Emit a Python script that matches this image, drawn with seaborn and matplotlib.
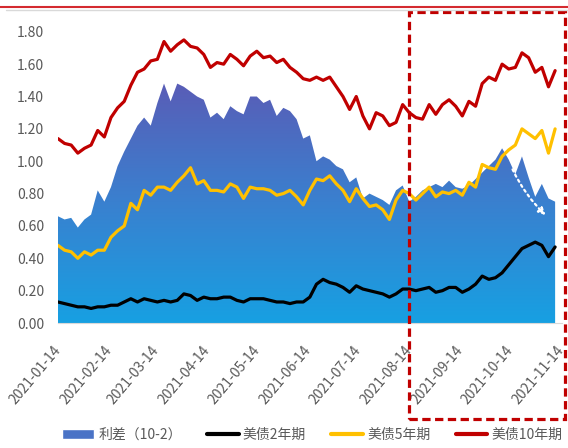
import matplotlib
matplotlib.use('Agg')
import matplotlib.pyplot as plt
import matplotlib.dates as mdates
from matplotlib.colors import LinearSegmentedColormap
from matplotlib.lines import Line2D
from matplotlib.patches import Patch, Rectangle
import numpy as np
import pandas as pd
import seaborn as sns

# 每4天取一个点
dates = pd.date_range('2021-01-14', periods=76, freq='4D')

spread = [0.66, 0.64, 0.65, 0.59, 0.64, 0.67, 0.82, 0.75, 0.84, 0.97,
          1.06, 1.14, 1.22, 1.27, 1.22, 1.36, 1.48, 1.37, 1.48, 1.46,
          1.43, 1.40, 1.38, 1.27, 1.30, 1.26, 1.34, 1.31, 1.29, 1.40,
          1.40, 1.36, 1.38, 1.28, 1.33, 1.31, 1.26, 1.14, 1.16, 1.00,
          1.03, 1.01, 0.97, 0.95, 0.87, 0.90, 0.77, 0.80, 0.78, 0.76,
          0.73, 0.82, 0.85, 0.75, 0.78, 0.82, 0.84, 0.86, 0.84, 0.88,
          0.84, 0.83, 0.85, 0.89, 0.93, 0.97, 1.01, 1.08, 1.01, 0.92,
          1.03, 0.90, 0.78, 0.86, 0.77, 0.75]

y10 = [1.14, 1.11, 1.10, 1.05, 1.08, 1.10, 1.19, 1.15, 1.27, 1.33,
       1.37, 1.47, 1.55, 1.57, 1.62, 1.63, 1.74, 1.68, 1.72, 1.75,
       1.71, 1.70, 1.66, 1.58, 1.61, 1.60, 1.66, 1.63, 1.59, 1.65,
       1.68, 1.64, 1.65, 1.61, 1.63, 1.58, 1.55, 1.51, 1.50, 1.52,
       1.50, 1.52, 1.46, 1.40, 1.32, 1.40, 1.28, 1.20, 1.30, 1.28,
       1.22, 1.24, 1.35, 1.30, 1.27, 1.26, 1.35, 1.29, 1.35, 1.38,
       1.34, 1.28, 1.37, 1.34, 1.48, 1.52, 1.50, 1.60, 1.57, 1.58,
       1.67, 1.64, 1.55, 1.58, 1.46, 1.56]

y5 = [0.48, 0.45, 0.44, 0.40, 0.44, 0.42, 0.45, 0.45, 0.53, 0.57,
      0.60, 0.74, 0.70, 0.82, 0.79, 0.84, 0.84, 0.82, 0.87, 0.91,
      0.96, 0.86, 0.88, 0.82, 0.82, 0.81, 0.86, 0.84, 0.77, 0.84,
      0.83, 0.83, 0.82, 0.79, 0.80, 0.82, 0.78, 0.73, 0.82, 0.89,
      0.88, 0.91, 0.86, 0.82, 0.75, 0.83, 0.77, 0.72, 0.73, 0.70,
      0.64, 0.76, 0.82, 0.80, 0.76, 0.80, 0.84, 0.78, 0.81, 0.80,
      0.82, 0.79, 0.87, 0.84, 0.98, 0.96, 0.95, 1.03, 1.07, 1.10,
      1.20, 1.17, 1.14, 1.19, 1.05, 1.20]

y2 = [0.13, 0.12, 0.11, 0.10, 0.10, 0.09, 0.10, 0.10, 0.11, 0.11,
      0.13, 0.15, 0.13, 0.15, 0.14, 0.13, 0.14, 0.13, 0.14, 0.18,
      0.17, 0.14, 0.16, 0.15, 0.15, 0.16, 0.16, 0.14, 0.13, 0.15,
      0.15, 0.15, 0.14, 0.13, 0.13, 0.12, 0.13, 0.13, 0.16, 0.24,
      0.27, 0.25, 0.24, 0.22, 0.19, 0.23, 0.21, 0.20, 0.19, 0.18,
      0.16, 0.18, 0.21, 0.21, 0.20, 0.21, 0.22, 0.19, 0.20, 0.22,
      0.22, 0.19, 0.21, 0.24, 0.29, 0.27, 0.28, 0.31, 0.36, 0.41,
      0.46, 0.48, 0.50, 0.48, 0.41, 0.47]

names = ['美债2年期', '美债5年期', '美债10年期']
colors = {'美债2年期': '#000000', '美债5年期': '#ffc000', '美债10年期': '#c00000'}

df = pd.DataFrame({'date': dates, '美债2年期': y2, '美债5年期': y5, '美债10年期': y10})
long = df.melt('date', var_name='series', value_name='yield')

sns.set_style('white')
plt.rcParams['font.family'] = ['Noto Sans CJK SC', 'DejaVu Sans']

fig = plt.figure(figsize=(5.68, 4.48), dpi=100)
ax = fig.add_axes([0.102, 0.279, 0.887, 0.65])

sns.lineplot(data=long, x='date', y='yield', hue='series', hue_order=names,
             palette=colors, linewidth=2.3, legend=False, ax=ax, zorder=3)

# 利差渐变面积
poly = ax.fill_between(dates, 0, spread, color='none', lw=0)
x = mdates.date2num(dates)
grad = np.linspace(0, 1, 256).reshape(-1, 1)
cmap = LinearSegmentedColormap.from_list('sp', ['#17a0e2', '#3a80cf', '#5a5cb6'])
img = ax.imshow(grad, cmap=cmap, origin='lower', aspect='auto',
                extent=[x[0], x[-1], 0, 1.5], zorder=1)
img.set_clip_path(poly.get_paths()[0], transform=ax.transData)

ax.annotate('', xy=(0.972, 0.364), xytext=(0.90, 0.536), xycoords='axes fraction',
            arrowprops=dict(arrowstyle='-|>', color='white', lw=1.6, linestyle=':',
                            connectionstyle='arc3,rad=0.1'), zorder=2)

ax.set_xlim(pd.Timestamp('2021-01-14'), pd.Timestamp('2021-11-14'))
ax.set_ylim(0, 1.8)
ax.set_yticks(np.arange(0, 1.81, 0.2))
ax.yaxis.set_major_formatter(matplotlib.ticker.FormatStrFormatter('%.2f'))
ticks = pd.date_range('2021-01-14', '2021-11-14', freq=pd.DateOffset(months=1))
ax.set_xticks(ticks)
ax.set_xticklabels([t.strftime('%Y-%m-%d') for t in ticks], rotation=50,
                   ha='right', va='center', rotation_mode='anchor')
ax.set_xlabel('')
ax.set_ylabel('')
for s in ['top', 'right', 'left']:
    ax.spines[s].set_visible(False)
ax.spines['bottom'].set_color('#d9d9d9')
ax.tick_params(axis='x', length=4, color='#d9d9d9', pad=14, labelsize=10, labelcolor='#595959')
ax.tick_params(axis='y', length=0, pad=10, labelsize=10, labelcolor='#595959')

handles = [Patch(facecolor='#4a73c6', label='利差（10-2）')] + \
          [Line2D([], [], color=colors[n], lw=3, label=n) for n in names]
fig.legend(handles=handles, loc='center', bbox_to_anchor=(0.55, 0.03), ncol=4,
           frameon=False, fontsize=10, handlelength=2.3, columnspacing=1.8,
           handletextpad=0.3, labelcolor='#595959')

# 顶部线条与红色虚线框
fig.add_artist(Line2D([0, 1], [0.984, 0.984], color='#d42a2f', lw=1.5))
fig.add_artist(Line2D([0.01, 1], [0.977, 0.977], color='#d9d9d9', lw=1))
fig.add_artist(Rectangle((0.720, 0.065), 0.275, 0.908, transform=fig.transFigure,
                         fill=False, edgecolor='#c00000', lw=2.3,
                         linestyle=(0, (2.6, 1.4))))

fig.savefig('out.png', dpi=100)
